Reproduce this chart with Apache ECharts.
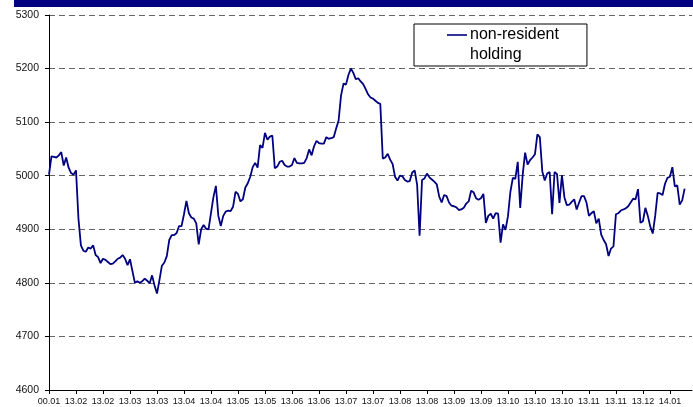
<!DOCTYPE html>
<html>
<head>
<meta charset="utf-8">
<script src="https://cdn.jsdelivr.net/npm/echarts@6/dist/echarts.min.js"></script>
<style>
html,body{margin:0;padding:0;background:#fff;}
#chart{width:693px;height:407px;}
</style>
</head>
<body>
<div id="chart"></div>
<script>
// Tick labels shown under the x axis (one every 11 observations)
const tickLabels = ['00.01','13.02','13.02','13.03','13.03','13.04','13.04','13.05','13.05','13.06','13.06','13.07','13.07','13.08','13.08','13.09','13.09','13.10','13.10','13.10','13.11','13.11','13.12','14.01'];
const tickStep = 11;
const seriesName = 'non-resident holding';
// Daily values of non-resident holding
const holding = [
5002,5036,5035,5034,5038,5044,5019,5034,5015,5005,
5002,5010,4920,4870,4860,4858,4866,4864,4870,4852,
4848,4837,4845,4843,4839,4835,4836,4840,4845,4847,
4852,4845,4833,4844,4822,4800,4803,4800,4803,4808,
4804,4799,4814,4795,4780,4805,4832,4838,4850,4880,
4889,4889,4893,4906,4906,4928,4953,4930,4922,4920,
4911,4872,4900,4908,4901,4900,4930,4960,4981,4925,
4906,4925,4933,4935,4934,4942,4970,4966,4952,4956,
4978,4986,4998,5016,5024,5015,5057,5052,5080,5067,
5073,5075,5014,5017,5026,5028,5020,5017,5017,5020,
5033,5024,5023,5023,5024,5033,5049,5038,5055,5065,
5061,5060,5060,5072,5069,5070,5072,5088,5103,5150,
5172,5170,5188,5200,5192,5180,5182,5176,5171,5162,
5152,5146,5144,5140,5136,5134,5032,5034,5041,5030,
5022,4998,4991,5000,4999,4992,4989,4990,5006,5010,
4983,4888,4992,4995,5004,4997,4993,4989,4984,4961,
4950,4964,4962,4950,4944,4943,4941,4936,4937,4940,
4948,4952,4972,4969,4958,4955,4958,4966,4912,4925,
4929,4920,4930,4929,4875,4909,4899,4924,4970,4996,
4994,5026,4940,5001,5043,5021,5029,5034,5040,5077,
5072,5008,4991,5004,5007,4928,5007,5003,4949,5001,
4960,4945,4946,4951,4956,4937,4950,4962,4962,4950,
4925,4930,4934,4911,4920,4890,4880,4872,4850,4864,
4868,4928,4930,4935,4937,4939,4943,4950,4957,4956,
4975,4912,4915,4940,4925,4905,4892,4925,4968,4967,
4964,4985,4996,4998,5016,4980,4982,4946,4954,4976
];
const yTicks = [4600, 4700, 4800, 4900, 5000, 5100, 5200, 5300];

const font = 'Liberation Sans, Arial, sans-serif';
const chart = echarts.init(document.getElementById('chart'), null, {renderer: 'canvas'});
chart.setOption({
  animation: false,
  backgroundColor: '#fff',
  graphic: [{
    type: 'rect', left: 14, top: 0, z: 10,
    shape: {width: 679, height: 7},
    style: {fill: '#000080'}
  }],
  grid: {left: 49, top: 15, right: 1, bottom: 17, containLabel: false},
  legend: {
    left: 414, top: 24, orient: 'vertical',
    padding: [1, 28, 1, 33],
    itemWidth: 20, itemHeight: 40, itemGap: 0,
    symbolKeepAspect: false,
    icon: 'path://M0,0L0,0M0,9.2L20,9.2L20,10.8L0,10.8ZM20,40L20,40',
    borderColor: '#000', borderWidth: 1, backgroundColor: '#fff', borderRadius: 0,
    formatter: n => n.replace(' ', '\n'),
    textStyle: {fontFamily: font, fontSize: 16, lineHeight: 20, color: '#000', padding: [0, 0, 0, -2]},
    data: [seriesName]
  },
  xAxis: {
    type: 'value', min: 0, max: 262, interval: tickStep,
    axisLine: {show: true, onZero: false, lineStyle: {color: '#000', width: 1}},
    axisTick: {show: true, length: 4, lineStyle: {color: '#000'}},
    axisLabel: {
      show: true, margin: 7, fontFamily: font, fontSize: 9, color: '#111',
      showMaxLabel: false, hideOverlap: false,
      formatter: v => (v % tickStep === 0 ? (tickLabels[v / tickStep] || '') : '')
    },
    splitLine: {show: false}
  },
  yAxis: {
    type: 'value', min: yTicks[0], max: yTicks[yTicks.length - 1], interval: 100,
    axisLine: {show: true, lineStyle: {color: '#000', width: 1}},
    axisTick: {show: true, length: 4, lineStyle: {color: '#000'}},
    axisLabel: {margin: 10, fontFamily: font, fontSize: 10.5, color: '#111', formatter: v => String(v)},
    splitLine: {show: true, lineStyle: {color: '#666', type: [6, 4], width: 1}}
  },
  series: [{
    name: seriesName,
    type: 'line',
    data: holding.map((v, i) => [i, v]),
    showSymbol: false, symbol: 'none',
    lineStyle: {color: '#000080', width: 1.8},
    itemStyle: {color: '#000080'},
    silent: true
  }]
});
</script>
</body>
</html>
